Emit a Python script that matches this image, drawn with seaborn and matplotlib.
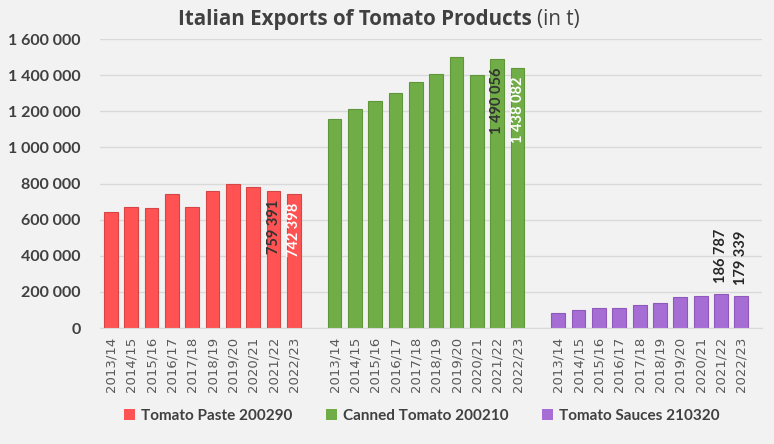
import seaborn as sns
import matplotlib.pyplot as plt
import pandas as pd
from matplotlib.ticker import FuncFormatter

# data (tonnes)
years = ["2013/14", "2014/15", "2015/16", "2016/17", "2017/18",
         "2018/19", "2019/20", "2020/21", "2021/22", "2022/23"]
paste = [643000, 670000, 665000, 744000, 670000, 759000, 800000, 781000, 759391, 742398]
canned = [1160000, 1215000, 1255000, 1300000, 1365000, 1405000, 1500000, 1400000, 1490056, 1438082]
sauces = [84000, 103000, 114000, 114000, 130000, 140000, 175000, 180000, 186787, 179339]
products = ["Tomato Paste 200290", "Canned Tomato 200210", "Tomato Sauces 210320"]

colors = ["#FF5353", "#70AD47", "#A66DD4"]
edges = ["#D64545", "#5E9639", "#8F58BD"]
bg = "#F2F2F2"
txt = "#404040"

# one empty slot between the product groups
rows = []
for g, (name, vals) in enumerate(zip(products, [paste, canned, sauces])):
    for j, v in enumerate(vals):
        rows.append({"pos": g * 11 + j, "year": years[j], "product": name, "value": v})
df = pd.DataFrame(rows)

fig = plt.figure(figsize=(7.74, 4.44), dpi=100, facecolor=bg)
ax = fig.add_axes([0.129, 0.261, 0.855, 0.651], facecolor=bg)

sns.barplot(data=df, x="pos", y="value", hue="product", native_scale=True,
            dodge=False, palette=dict(zip(products, colors)), width=0.68,
            saturation=1, ax=ax, legend=True)

for cont, ec in zip(ax.containers, edges):
    for bar in cont:
        bar.set_edgecolor(ec)
        bar.set_linewidth(0.8)

ax.set_ylim(0, 1600000)
ax.set_xlim(-0.54, 32.0)
ax.set_yticks(range(0, 1600001, 200000))
ax.yaxis.set_major_formatter(FuncFormatter(lambda v, _: f"{int(v):,}".replace(",", " ")))
ax.set_xticks(df["pos"])
ax.set_xticklabels(df["year"], rotation=90, fontsize=9.5, color="#595959",
                   family="DejaVu Sans")
for lab in ax.get_yticklabels():
    lab.set_fontweight("bold")
    lab.set_fontsize(11.5)
    lab.set_color(txt)
    lab.set_family("Lato")
ax.tick_params(axis="both", length=0)
ax.tick_params(axis="y", pad=14)
ax.tick_params(axis="x", pad=6)
ax.grid(axis="y", color="#D9D9D9", linewidth=1)
ax.set_axisbelow(True)
for s in ["left", "right", "top"]:
    ax.spines[s].set_visible(False)
ax.spines["bottom"].set_color("#D9D9D9")
ax.set_xlabel("")
ax.set_ylabel("")

# value labels on the last two bars of each group
def lab(x, v, inside, color):
    s = f"{v:,}".replace(",", " ")
    if inside:
        ax.annotate(s, (x, v), xytext=(0, -6), textcoords="offset points",
                    rotation=90, ha="center", va="top", fontsize=10.5,
                    fontweight="bold", color=color, family="Lato")
    else:
        ax.annotate(s, (x, v), xytext=(0, 8), textcoords="offset points",
                    rotation=90, ha="center", va="bottom", fontsize=10.5,
                    fontweight="bold", color=color, family="Lato")

lab(8, paste[8], True, "#333333")
lab(9, paste[9], True, "white")
lab(19, canned[8], True, "#333333")
lab(20, canned[9], True, "white")
lab(30, sauces[8], False, "#262626")
lab(31, sauces[9], False, "#262626")

# legend at the bottom
handles, labels = ax.get_legend_handles_labels()
ax.get_legend().remove()
fig.legend(handles, labels, loc="center", bbox_to_anchor=(0.545, 0.063), ncol=3,
           frameon=False, handlelength=0.7, handleheight=0.7, handletextpad=0.4,
           columnspacing=2.2, prop={"family": "Lato", "weight": "bold", "size": 11},
           labelcolor=txt)

# title: bold part + regular part
fig.text(0.687, 0.955, "Italian Exports of Tomato Products", ha="right", va="center",
         fontsize=14.8, fontweight="bold", color=txt, family="Open Sans")
fig.text(0.694, 0.955, "(in t)", ha="left", va="center",
         fontsize=14.8, color=txt, family="Open Sans")

fig.savefig("out.png", dpi=100, facecolor=bg)
